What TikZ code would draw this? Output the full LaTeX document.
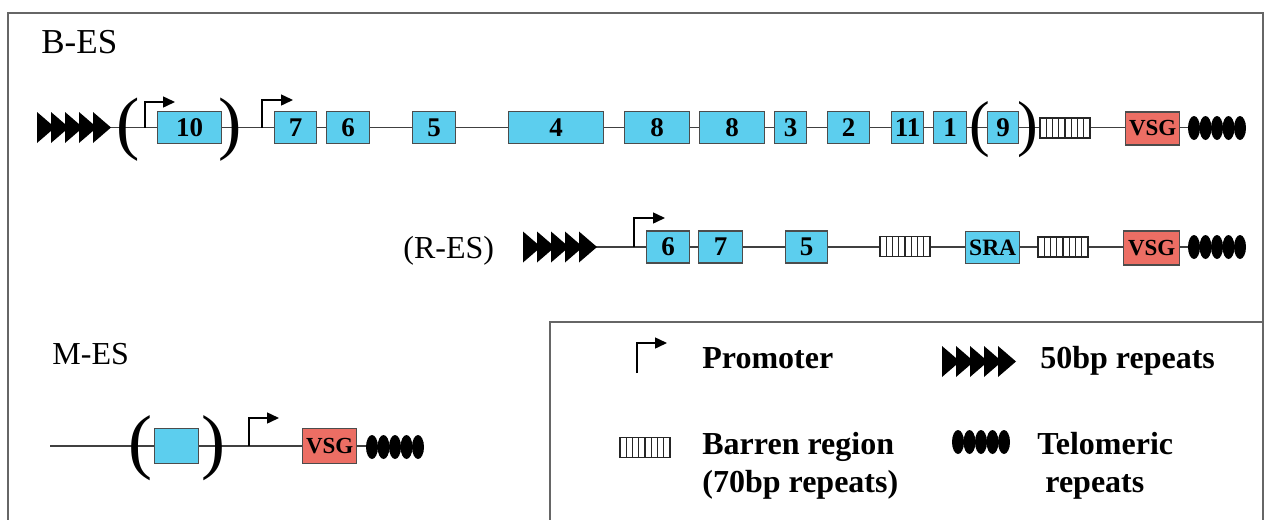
\documentclass[tikz,border=0pt]{standalone}
\usepackage{fontspec}
\setmainfont{Liberation Serif}
\usetikzlibrary{arrows.meta,backgrounds}
\definecolor{genecol}{RGB}{92,206,238}
\definecolor{vsgcol}{RGB}{236,110,100}

\begin{document}
\begin{tikzpicture}[x=0.5pt,y=-0.5pt,
  gene/.style={draw=black!70, fill=genecol, line width=0.7pt, inner sep=0pt, minimum height=16pt, anchor=west, font=\bfseries\fontsize{13.5}{14}\selectfont},
  vsg/.style={gene, fill=vsgcol, minimum height=16.5pt, font=\bfseries\fontsize{11.5}{12}\selectfont},
  paren/.style={inner sep=0pt, font=\fontsize{35}{35}\selectfont},
  eslabel/.style={inner sep=0pt, anchor=base west, font=\fontsize{16}{18}\selectfont},
  keytext/.style={inner sep=0pt, anchor=base west, font=\bfseries\fontsize{16}{18}\selectfont},
  backbone/.style={black!75, line width=0.75pt},
  promoter/.style={black, line width=0.75pt, -{Triangle[length=6pt,width=5.5pt]}},
  outline/.style={black!60, line width=1pt},
  repeats/.pic={\foreach \i in {0,...,4} \fill (\i*14,-15.5) -- ++(18,15.5) -- ++(-18,15.5) -- cycle;},
  telomere/.pic={\foreach \i in {0,...,4} \fill (6+\i*11.5,0) ellipse [x radius=3pt, y radius=6pt];},
  barren/.pic={\filldraw[fill=white, draw=black!85, line width=0.7pt] (0,-10) rectangle (50,10);
    \foreach \i in {1,...,7} \draw[black!85, line width=0.7pt] (\i*6.25,-10) -- (\i*6.25,10);}
]
\useasboundingbox (0,0) rectangle (1266,520);
% frame and key box
\draw[outline] (8,520) -- (8,13) -- (1263,13) -- (1263,520);
\draw[outline] (550,520) -- (550,322) -- (1263,322);

% B-ES
\node[eslabel, font=\fontsize{17.5}{18}\selectfont] (bes) at (41,53) {B-ES};
\pic at (37,127.5) {repeats};
\coordinate (brep) at (108,127.5);
\node[paren] (bpa) at (128,129.5) {(};
\coordinate (bpr1) at (145,127.5);
\node[gene, minimum width=32pt] (b10) at (157,127.5) {10};
\node[paren] (bpb) at (230,129.5) {)};
\coordinate (bpr2) at (262,127.5);
\node[gene, minimum width=21pt] (b7) at (274,127.5) {7};
\node[gene, minimum width=21.5pt] (b6) at (326,127.5) {6};
\node[gene, minimum width=21.5pt] (b5) at (412,127.5) {5};
\node[gene, minimum width=47.5pt] (b4) at (508,127.5) {4};
\node[gene, minimum width=32.5pt] (b8a) at (624,127.5) {8};
\node[gene, minimum width=32.5pt] (b8b) at (699,127.5) {8};
\node[gene, minimum width=16pt] (b3) at (774,127.5) {3};
\node[gene, minimum width=21pt] (b2) at (827,127.5) {2};
\node[gene, minimum width=16pt] (b11) at (891,127.5) {11};
\node[gene, minimum width=16.5pt] (b1) at (933,127.5) {1};
\node[paren, font=\fontsize{31}{31}\selectfont] (bpc) at (980,130) {(};
\node[gene, minimum width=15.5pt] (b9) at (987,127.5) {9};
\node[paren, font=\fontsize{31}{31}\selectfont] (bpd) at (1028,130) {)};
\pic at (1040,128) {barren};
\node[vsg, minimum width=27pt] (bvsg) at (1125,128.5) {VSG};
\pic at (1188,128) {telomere};
\coordinate (btel) at (1192,127.5);
\draw[promoter] (bpr1) |- ++(30,-25.5);
\draw[promoter] (bpr2) |- ++(31,-27.5);

% R-ES
\node[eslabel] (res) at (403,258) {(R-ES)};
\pic at (523,247) {repeats};
\coordinate (rrep) at (594,247);
\coordinate (rpr) at (634,247);
\node[gene, minimum width=21.5pt] (r6) at (646,247) {6};
\node[gene, minimum width=22pt] (r7) at (698,247) {7};
\node[gene, minimum width=21pt] (r5) at (785,247) {5};
\pic at (880,246.5) {barren};
\node[gene, minimum width=27pt, font=\bfseries\fontsize{11.75}{12}\selectfont] (rsra) at (965,247.5) {SRA};
\pic at (1038,247) {barren};
\node[vsg, minimum width=28pt, minimum height=17pt] (rvsg) at (1123,248) {VSG};
\pic at (1188,247) {telomere};
\coordinate (rtel) at (1192,247);
\draw[promoter] (rpr) |- ++(31,-29);

% M-ES
\node[eslabel] (mes) at (52,364) {M-ES};
\coordinate (mstart) at (50,446);
\node[paren, font=\fontsize{36}{36}\selectfont] (mpa) at (140,448) {(};
\node[gene, minimum width=22pt, minimum height=17.5pt] (mbox) at (154,446) {};
\node[paren, font=\fontsize{36}{36}\selectfont] (mpb) at (213,448) {)};
\coordinate (mpr) at (249,446);
\node[vsg, minimum width=27pt, minimum height=17.5pt] (mvsg) at (302,446) {VSG};
\pic at (366,447) {telomere};
\coordinate (mtel) at (370,446);
\draw[promoter] (mpr) |- ++(30,-28);

\begin{scope}[on background layer]
\draw[backbone] (brep) -- (btel);
\draw[backbone] (rrep) -- (rtel);
\draw[backbone] (mstart) -- (mtel);
\end{scope}

% key
\coordinate (kpr) at (637,373);
\draw[promoter] (kpr) |- ++(30,-30);
\node[keytext] (kprt) at (702,368) {Promoter};
\pic at (942,361.5) {repeats};
\node[keytext] (krept) at (1040,368) {50bp repeats};
\pic at (620,447.5) {barren};
\node[keytext] (kbar) at (702,454) {Barren region};
\node[keytext] (kbar2) at (702,492) {(70bp repeats)};
\pic at (952,442) {telomere};
\node[keytext] (ktel) at (1037,454) {Telomeric};
\node[keytext] (ktel2) at (1045,492) {repeats};
\end{tikzpicture}
\end{document}
